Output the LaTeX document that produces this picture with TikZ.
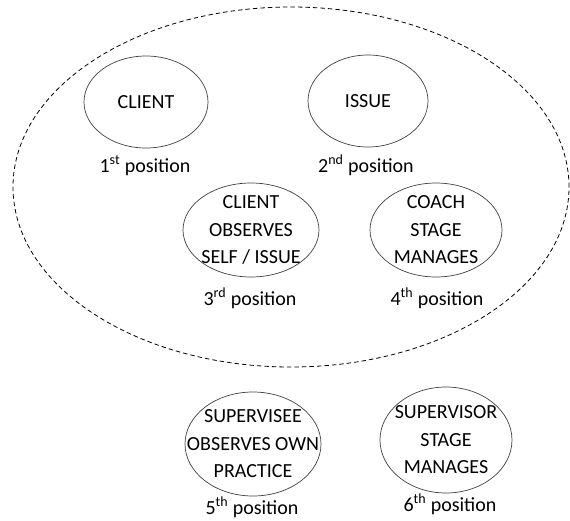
\documentclass[tikz,border=0pt]{standalone}
\usepackage{fontspec}
\setmainfont{Carlito}
\usetikzlibrary{shapes.geometric}
\begin{document}
\begin{tikzpicture}[x=1pt,y=-1pt,
  blob/.style={ellipse, draw=black!75, line width=0.7pt, inner sep=0pt},
  caps/.style={font=\fontsize{20}{27.5}\selectfont, align=center, inner sep=0pt},
  poslabel/.style={font=\fontsize{20}{24}\selectfont, anchor=base, inner sep=0pt}]
\useasboundingbox (0,0) rectangle (570,520);
\draw[dash pattern=on 4.5pt off 3pt, line width=0.8pt] (291,187) ellipse [x radius=278pt, y radius=180pt];
\foreach \n/\x/\y/\rx/\ry/\txt/\lx/\ly/\ord in {
  1/146/102/62/46/{CLIENT}/145/172/st,
  2/368/101/60/46/{ISSUE}/366/172/nd,
  3/251/230/68/47/{CLIENT\\OBSERVES\\SELF / ISSUE}/250/305/rd,
  4/436/230/66/47/{COACH\\STAGE\\MANAGES}/437/305/th,
  5/253/444/68/52/{SUPERVISEE\\OBSERVES OWN\\PRACTICE}/252/514/th,
  6/446/440/66/53/{SUPERVISOR\\STAGE\\MANAGES}/450/511/th}
{
  \node[blob, minimum width=2*\rx*1pt, minimum height=2*\ry*1pt] (\n) at (\x,\y) {};
  \node[caps] (t\n) at (\n) {\txt};
  \node[poslabel] (p\n) at (\lx,\ly) {\n\textsuperscript{\ord} position};
}
\end{tikzpicture}
\end{document}
